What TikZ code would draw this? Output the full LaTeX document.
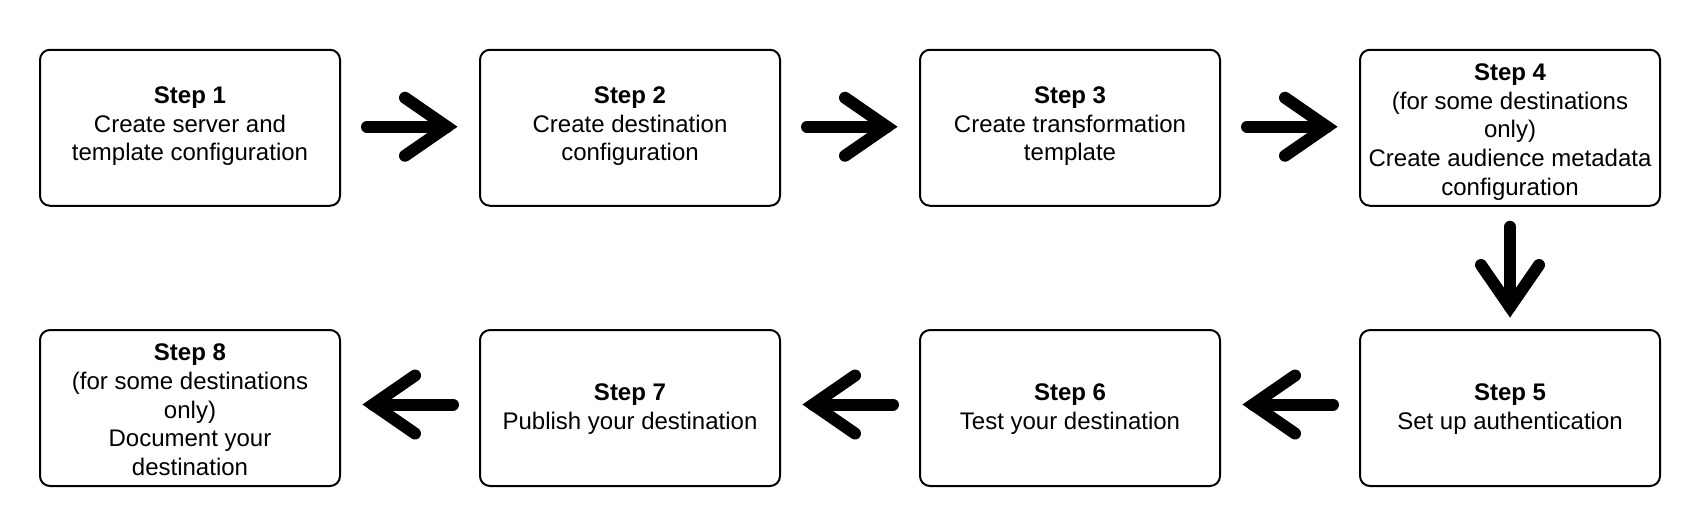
\documentclass[tikz,border=0pt]{standalone}
\usepackage{fontspec}
\setmainfont{Liberation Sans}
\newcommand{\steptxt}[2]{\raisebox{#1}[\height][\depth]{\begin{tabular}{@{}c@{}}#2\end{tabular}}}
\begin{document}
\begin{tikzpicture}[x=0.5pt,y=-0.5pt,
  stepbox/.style={draw=black, line width=1pt, rounded corners=5pt, minimum width=150pt, minimum height=78pt, inner sep=0pt, font=\fontsize{12pt}{14.4pt}\selectfont},
  shaft/.style={line width=6pt, line cap=round},
  head/.style={line width=6pt, line cap=round, line join=miter}]
\useasboundingbox (0,0) rectangle (1700,527);
\node[stepbox] (s1) at (190,127.75) {\steptxt{0.7pt}{\textbf{Step 1}\\Create server and\\template configuration}};
\node[stepbox] (s2) at (630,127.75) {\steptxt{0.7pt}{\textbf{Step 2}\\Create destination\\configuration}};
\node[stepbox] (s3) at (1070,127.75) {\steptxt{0.7pt}{\textbf{Step 3}\\Create transformation\\template}};
\node[stepbox] (s4) at (1510,127.75) {\steptxt{-2.2pt}{\textbf{Step 4}\\(for some destinations\\only)\\Create audience metadata\\configuration}};
\node[stepbox] (s5) at (1510,408) {\steptxt{-0.5pt}{\textbf{Step 5}\\Set up authentication}};
\node[stepbox] (s6) at (1070,408) {\steptxt{-0.5pt}{\textbf{Step 6}\\Test your destination}};
\node[stepbox] (s7) at (630,408) {\steptxt{-0.5pt}{\textbf{Step 7}\\Publish your destination}};
\node[stepbox] (s8) at (190,408) {\steptxt{-2.2pt}{\textbf{Step 8}\\(for some destinations\\only)\\Document your\\destination}};
% right arrows
\foreach \a/\b in {s1/s2, s2/s3, s3/s4}{
  \draw[shaft] ([xshift=13pt,yshift=0.5pt]\a.east) -- ([xshift=-16pt,yshift=0.5pt]\b.west);
  \draw[head] ([xshift=-37pt,yshift=15pt]\b.west) -- ([xshift=-16pt,yshift=0.5pt]\b.west) -- ([xshift=-37pt,yshift=-14pt]\b.west);
}
% left arrows
\foreach \a/\b in {s5/s6, s6/s7, s7/s8}{
  \draw[shaft] ([xshift=-13pt,yshift=1.75pt]\a.west) -- ([xshift=16pt,yshift=1.75pt]\b.east);
  \draw[head] ([xshift=37pt,yshift=16.25pt]\b.east) -- ([xshift=16pt,yshift=1.75pt]\b.east) -- ([xshift=37pt,yshift=-12.75pt]\b.east);
}
% down arrow
\draw[shaft] ([yshift=-10pt]s4.south) -- ([yshift=11pt]s5.north);
\draw[head] ([xshift=-14.5pt,yshift=32pt]s5.north) -- ([yshift=11pt]s5.north) -- ([xshift=14.5pt,yshift=32pt]s5.north);
\end{tikzpicture}
\end{document}
